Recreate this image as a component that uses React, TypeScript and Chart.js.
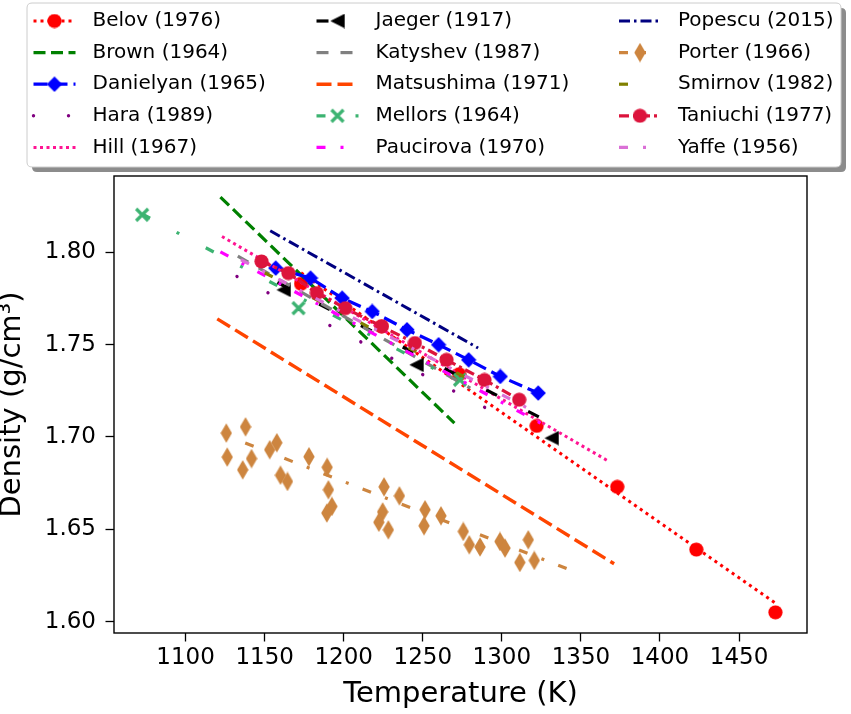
import React, { useEffect, useRef } from 'react';
import { Chart, registerables } from 'chart.js';

Chart.register(...registerables);

// ---------------- data ----------------
const xTicks = [1100, 1150, 1200, 1250, 1300, 1350, 1400, 1450];
const yTicks = [1.6, 1.65, 1.7, 1.75, 1.8];

const belovT = [1173, 1224, 1273, 1322, 1373, 1423, 1473];
const belovD = [1.783, 1.76, 1.734, 1.706, 1.673, 1.639, 1.605];
const belovFitT = [1173, 1473];
const belovFitD = [1.789, 1.61];

const brownT = [1122, 1270];
const brownD = [1.83, 1.7075];

const danielyanT = [1157, 1179, 1199, 1218, 1240, 1260, 1279, 1299, 1323];
const danielyanD = [1.7915, 1.7861, 1.7752, 1.768, 1.7581, 1.75, 1.7418, 1.7328, 1.7238];

const haraT = [1132.5, 1306];
const haraD = [1.787, 1.7084];

const hillT = [1123, 1367];
const hillD = [1.8086, 1.6871];

const jaegerT = [1162, 1246, 1331.5];
const jaegerD = [1.7797, 1.7391, 1.6994];
const jaegerFitT = [1158, 1331];
const jaegerFitD = [1.7837, 1.7075];

const katyshevT = [1133, 1280];
const katyshevD = [1.798, 1.7265];

const matsushimaT = [1120, 1371];
const matsushimaD = [1.764, 1.6313];

const mellorsT = [1072.5, 1171.4, 1273.5];
const mellorsD = [1.8204, 1.7698, 1.731];
const mellorsFitT = [1072.5, 1273.5];
const mellorsFitD = [1.8208, 1.7295];

const paucirovaT = [1122, 1330];
const paucirovaD = [1.8003, 1.705];

const popescuT = [1153.5, 1285];
const popescuD = [1.8117, 1.7482];

const porterT = [
  1125.7, 1137.9, 1126.3, 1136.1, 1141.7, 1153.2, 1157.7, 1160, 1164.4, 1178,
  1189.5, 1190.3, 1192.5, 1189.3, 1225.5, 1235.2, 1224.6, 1222.2, 1228.2, 1251.4,
  1261.5, 1250.8, 1275.6, 1279.4, 1286.2, 1298.8, 1302, 1316.7, 1311.4, 1320.5,
];
const porterD = [
  1.7021, 1.7055, 1.6891, 1.6822, 1.6883, 1.6931, 1.6969, 1.6793, 1.6759, 1.6893,
  1.6836, 1.6714, 1.6624, 1.6588, 1.673, 1.6681, 1.6594, 1.6538, 1.6497, 1.6606,
  1.6573, 1.6519, 1.6488, 1.6416, 1.6404, 1.6434, 1.6398, 1.6443, 1.632, 1.6331,
];
const porterFitT = [1137.7, 1349.3];
const porterFitD = [1.6967, 1.6259];

const smirnovT = [1150, 1300];
const smirnovD = [1.789, 1.722];

const taniuchiT = [1148, 1165, 1183, 1201, 1224, 1245, 1265, 1289, 1311];
const taniuchiD = [1.7951, 1.7888, 1.778, 1.7698, 1.7599, 1.7509, 1.7418, 1.7309, 1.7202];

const yaffeT = [1135, 1320];
const yaffeD = [1.796, 1.714];

// ---------------- styles ----------------
type MarkerKind = 'circle' | 'diamond' | 'thinDiamond' | 'triLeft' | 'x' | null;
interface Style { color: string; lw: number; dash: number[]; cap?: CanvasLineCap; marker: MarkerKind; }

const styles: Record<string, Style> = {
  'Belov (1976)': { color: '#ff0000', lw: 3, dash: [3, 4], marker: 'circle' },
  'Brown (1964)': { color: '#008000', lw: 3.2, dash: [12, 5.5], marker: null },
  'Danielyan (1965)': { color: '#0000ff', lw: 3.2, dash: [14, 6], marker: 'diamond' },
  'Hara (1989)': { color: '#800080', lw: 3.4, dash: [0.01, 35], cap: 'round', marker: null },
  'Hill (1967)': { color: '#ff1493', lw: 3, dash: [3, 3.5], marker: null },
  'Jaeger (1917)': { color: '#000000', lw: 3.2, dash: [12, 35], marker: 'triLeft' },
  'Katyshev (1987)': { color: '#808080', lw: 3.2, dash: [12, 12], marker: null },
  'Matsushima (1971)': { color: '#ff4500', lw: 3.4, dash: [15, 6], marker: null },
  'Mellors (1964)': { color: '#3cb371', lw: 3.2, dash: [9, 30, 3, 30], marker: 'x' },
  'Paucirova (1970)': { color: '#ff00ff', lw: 3.2, dash: [9, 15, 3, 15], marker: null },
  'Popescu (2015)': { color: '#000080', lw: 3, dash: [11, 4, 2.5, 4], marker: null },
  'Porter (1966)': { color: '#cd853f', lw: 3.2, dash: [9, 15, 3, 15], marker: 'thinDiamond' },
  'Smirnov (1982)': { color: '#808000', lw: 3.2, dash: [9, 45], marker: null },
  'Taniuchi (1977)': { color: '#dc143c', lw: 3.2, dash: [10, 4, 3, 4], marker: 'circle' },
  'Yaffe (1956)': { color: '#da70d6', lw: 3.2, dash: [9, 15, 3, 15], marker: null },
};

interface Series { name: string; lineT: number[]; lineD: number[]; ptsT?: number[]; ptsD?: number[]; }

const series: Series[] = [
  { name: 'Belov (1976)', lineT: belovFitT, lineD: belovFitD, ptsT: belovT, ptsD: belovD },
  { name: 'Brown (1964)', lineT: brownT, lineD: brownD },
  { name: 'Danielyan (1965)', lineT: danielyanT, lineD: danielyanD, ptsT: danielyanT, ptsD: danielyanD },
  { name: 'Hara (1989)', lineT: haraT, lineD: haraD },
  { name: 'Hill (1967)', lineT: hillT, lineD: hillD },
  { name: 'Jaeger (1917)', lineT: jaegerFitT, lineD: jaegerFitD, ptsT: jaegerT, ptsD: jaegerD },
  { name: 'Katyshev (1987)', lineT: katyshevT, lineD: katyshevD },
  { name: 'Matsushima (1971)', lineT: matsushimaT, lineD: matsushimaD },
  { name: 'Mellors (1964)', lineT: mellorsFitT, lineD: mellorsFitD, ptsT: mellorsT, ptsD: mellorsD },
  { name: 'Paucirova (1970)', lineT: paucirovaT, lineD: paucirovaD },
  { name: 'Popescu (2015)', lineT: popescuT, lineD: popescuD },
  { name: 'Porter (1966)', lineT: porterFitT, lineD: porterFitD, ptsT: porterT, ptsD: porterD },
  { name: 'Smirnov (1982)', lineT: smirnovT, lineD: smirnovD },
  { name: 'Taniuchi (1977)', lineT: taniuchiT, lineD: taniuchiD, ptsT: taniuchiT, ptsD: taniuchiD },
  { name: 'Yaffe (1956)', lineT: yaffeT, lineD: yaffeD },
];

const FONT = '"DejaVu Sans", "Liberation Sans", sans-serif';

function makeMarker(kind: MarkerKind, color: string): HTMLCanvasElement | null {
  if (!kind) return null;
  const dims: Record<string, [number, number]> = {
    circle: [15, 15], diamond: [16, 16], thinDiamond: [12, 20], triLeft: [15, 15], x: [16, 16],
  };
  const [w, h] = dims[kind];
  const c = document.createElement('canvas');
  c.width = w; c.height = h;
  const g = c.getContext('2d')!;
  g.fillStyle = color; g.strokeStyle = color;
  const cx = w / 2, cy = h / 2;
  g.beginPath();
  if (kind === 'circle') {
    g.arc(cx, cy, w / 2 - 0.4, 0, Math.PI * 2); g.fill();
  } else if (kind === 'diamond' || kind === 'thinDiamond') {
    g.moveTo(cx, 0.3); g.lineTo(w - 0.3, cy); g.lineTo(cx, h - 0.3); g.lineTo(0.3, cy); g.closePath(); g.fill();
  } else if (kind === 'triLeft') {
    g.moveTo(0.3, cy); g.lineTo(w - 0.3, 0.3); g.lineTo(w - 0.3, h - 0.3); g.closePath(); g.fill();
  } else if (kind === 'x') {
    g.lineWidth = 3.2; g.lineCap = 'butt';
    g.moveTo(2, 2); g.lineTo(w - 2, h - 2); g.moveTo(w - 2, 2); g.lineTo(2, h - 2); g.stroke();
  }
  return c;
}

export default function App() {
  const ref = useRef<HTMLCanvasElement>(null);

  useEffect(() => {
    const canvas = ref.current;
    if (!canvas) return;
    Chart.defaults.font.family = FONT;

    const markerImgs: Record<string, HTMLCanvasElement | null> = {};
    for (const s of series) markerImgs[s.name] = makeMarker(styles[s.name].marker, styles[s.name].color);

    const datasets: any[] = [];
    for (const s of series) {
      const st = styles[s.name];
      datasets.push({
        label: s.name,
        data: s.lineT.map((t, i) => ({ x: t, y: s.lineD[i] })),
        showLine: true,
        borderColor: st.color,
        backgroundColor: st.color,
        borderWidth: st.lw,
        borderDash: st.dash,
        borderCapStyle: st.cap || 'butt',
        pointRadius: 0,
        pointHoverRadius: 0,
        fill: false,
        tension: 0,
      });
      if (s.ptsT && s.ptsD) {
        datasets.push({
          label: s.name + ' pts',
          data: s.ptsT.map((t, i) => ({ x: t, y: s.ptsD![i] })),
          showLine: false,
          pointStyle: markerImgs[s.name],
          pointRadius: 5,
          pointHoverRadius: 5,
          borderColor: st.color,
          backgroundColor: st.color,
        });
      }
    }
    datasets.reverse(); // first dataset is drawn on top in Chart.js

    const framePlugin = {
      id: 'frame',
      afterDatasetsDraw(chart: any) {
        const { ctx, chartArea: a } = chart;
        ctx.save();
        ctx.strokeStyle = '#000';
        ctx.lineWidth = 1.4;
        ctx.strokeRect(a.left, a.top, a.right - a.left, a.bottom - a.top);
        ctx.restore();
      },
    };

    const rr = (ctx: CanvasRenderingContext2D, x: number, y: number, w: number, h: number, r: number) => {
      ctx.beginPath();
      ctx.moveTo(x + r, y);
      ctx.lineTo(x + w - r, y); ctx.quadraticCurveTo(x + w, y, x + w, y + r);
      ctx.lineTo(x + w, y + h - r); ctx.quadraticCurveTo(x + w, y + h, x + w - r, y + h);
      ctx.lineTo(x + r, y + h); ctx.quadraticCurveTo(x, y + h, x, y + h - r);
      ctx.lineTo(x, y + r); ctx.quadraticCurveTo(x, y, x + r, y);
      ctx.closePath();
    };

    const legendPlugin = {
      id: 'mplLegend',
      afterDraw(chart: any) {
        const ctx: CanvasRenderingContext2D = chart.ctx;
        ctx.save();
        const bx = 27, by = 3, bw = 814, bh = 164;
        rr(ctx, bx + 5, by + 5, bw, bh, 5);
        ctx.fillStyle = '#8c8c8c';
        ctx.fill();
        rr(ctx, bx, by, bw, bh, 5);
        ctx.fillStyle = '#ffffff';
        ctx.fill();
        ctx.strokeStyle = '#cccccc';
        ctx.lineWidth = 1;
        ctx.stroke();

        const colX = [33.5, 316.5, 619];
        const rowY0 = 21, rowStep = 31.6, handleLen = 42, textOff = 59;
        ctx.font = '20px ' + FONT;
        ctx.textBaseline = 'middle';
        ctx.textAlign = 'left';
        series.forEach((s, i) => {
          const st = styles[s.name];
          const col = Math.floor(i / 5), row = i % 5;
          const x0 = colX[col], y = rowY0 + row * rowStep;
          ctx.save();
          ctx.strokeStyle = st.color;
          ctx.lineWidth = st.lw;
          ctx.lineCap = st.cap || 'butt';
          ctx.setLineDash(st.dash);
          ctx.lineDashOffset = 0;
          ctx.beginPath();
          ctx.moveTo(x0, y);
          ctx.lineTo(x0 + handleLen, y);
          ctx.stroke();
          ctx.restore();
          const img = markerImgs[s.name];
          if (img) ctx.drawImage(img, x0 + handleLen / 2 - img.width / 2, y - img.height / 2);
          ctx.fillStyle = '#000';
          ctx.fillText(s.name, x0 + textOff, y);
        });
        ctx.restore();
      },
    };

    const chart = new Chart(canvas, {
      type: 'scatter',
      data: { datasets },
      options: {
        animation: false,
        responsive: false,
        maintainAspectRatio: false,
        devicePixelRatio: 1,
        events: [],
        layout: { padding: { left: 0, top: 176, right: 44, bottom: 0 } },
        plugins: { legend: { display: false }, tooltip: { enabled: false } },
        scales: {
          x: {
            type: 'linear',
            min: 1054.7,
            max: 1493,
            afterBuildTicks: (scale: any) => { scale.ticks = xTicks.map((v) => ({ value: v })); },
            afterFit: (scale: any) => { scale.height = 81; },
            grid: { display: true, drawOnChartArea: false, drawTicks: true, tickLength: 8.5, tickWidth: 1.3, tickColor: '#000' },
            border: { display: false },
            ticks: {
              autoSkip: false, maxRotation: 0, padding: 3, color: '#000',
              font: { size: 23, family: FONT },
              callback: (v: any) => String(v),
            },
            title: {
              display: true, text: 'Temperature (K)', color: '#000',
              font: { size: 29, family: FONT }, padding: { top: 0, bottom: 2 },
            },
          },
          y: {
            type: 'linear',
            min: 1.5938,
            max: 1.8414,
            afterBuildTicks: (scale: any) => { scale.ticks = yTicks.map((v) => ({ value: v })); },
            afterFit: (scale: any) => { scale.width = 114; },
            grid: { display: true, drawOnChartArea: false, drawTicks: true, tickLength: 8.5, tickWidth: 1.3, tickColor: '#000' },
            border: { display: false },
            ticks: {
              autoSkip: false, padding: 9.5, color: '#000',
              font: { size: 23, family: FONT },
              callback: (v: any) => Number(v).toFixed(2),
            },
            title: {
              display: true, text: 'Density (g/cm³)', color: '#000',
              font: { size: 29, family: FONT, lineHeight: 0.83 }, padding: { top: 0, bottom: 0 },
            },
          },
        },
      },
      plugins: [framePlugin, legendPlugin],
    });

    return () => chart.destroy();
  }, []);

  return (
    <div style={{ position: 'absolute', left: 0, top: 0, width: 851, height: 714, background: '#fff' }}>
      <canvas ref={ref} width={851} height={714} style={{ width: 851, height: 714, display: 'block' }} />
    </div>
  );
}
